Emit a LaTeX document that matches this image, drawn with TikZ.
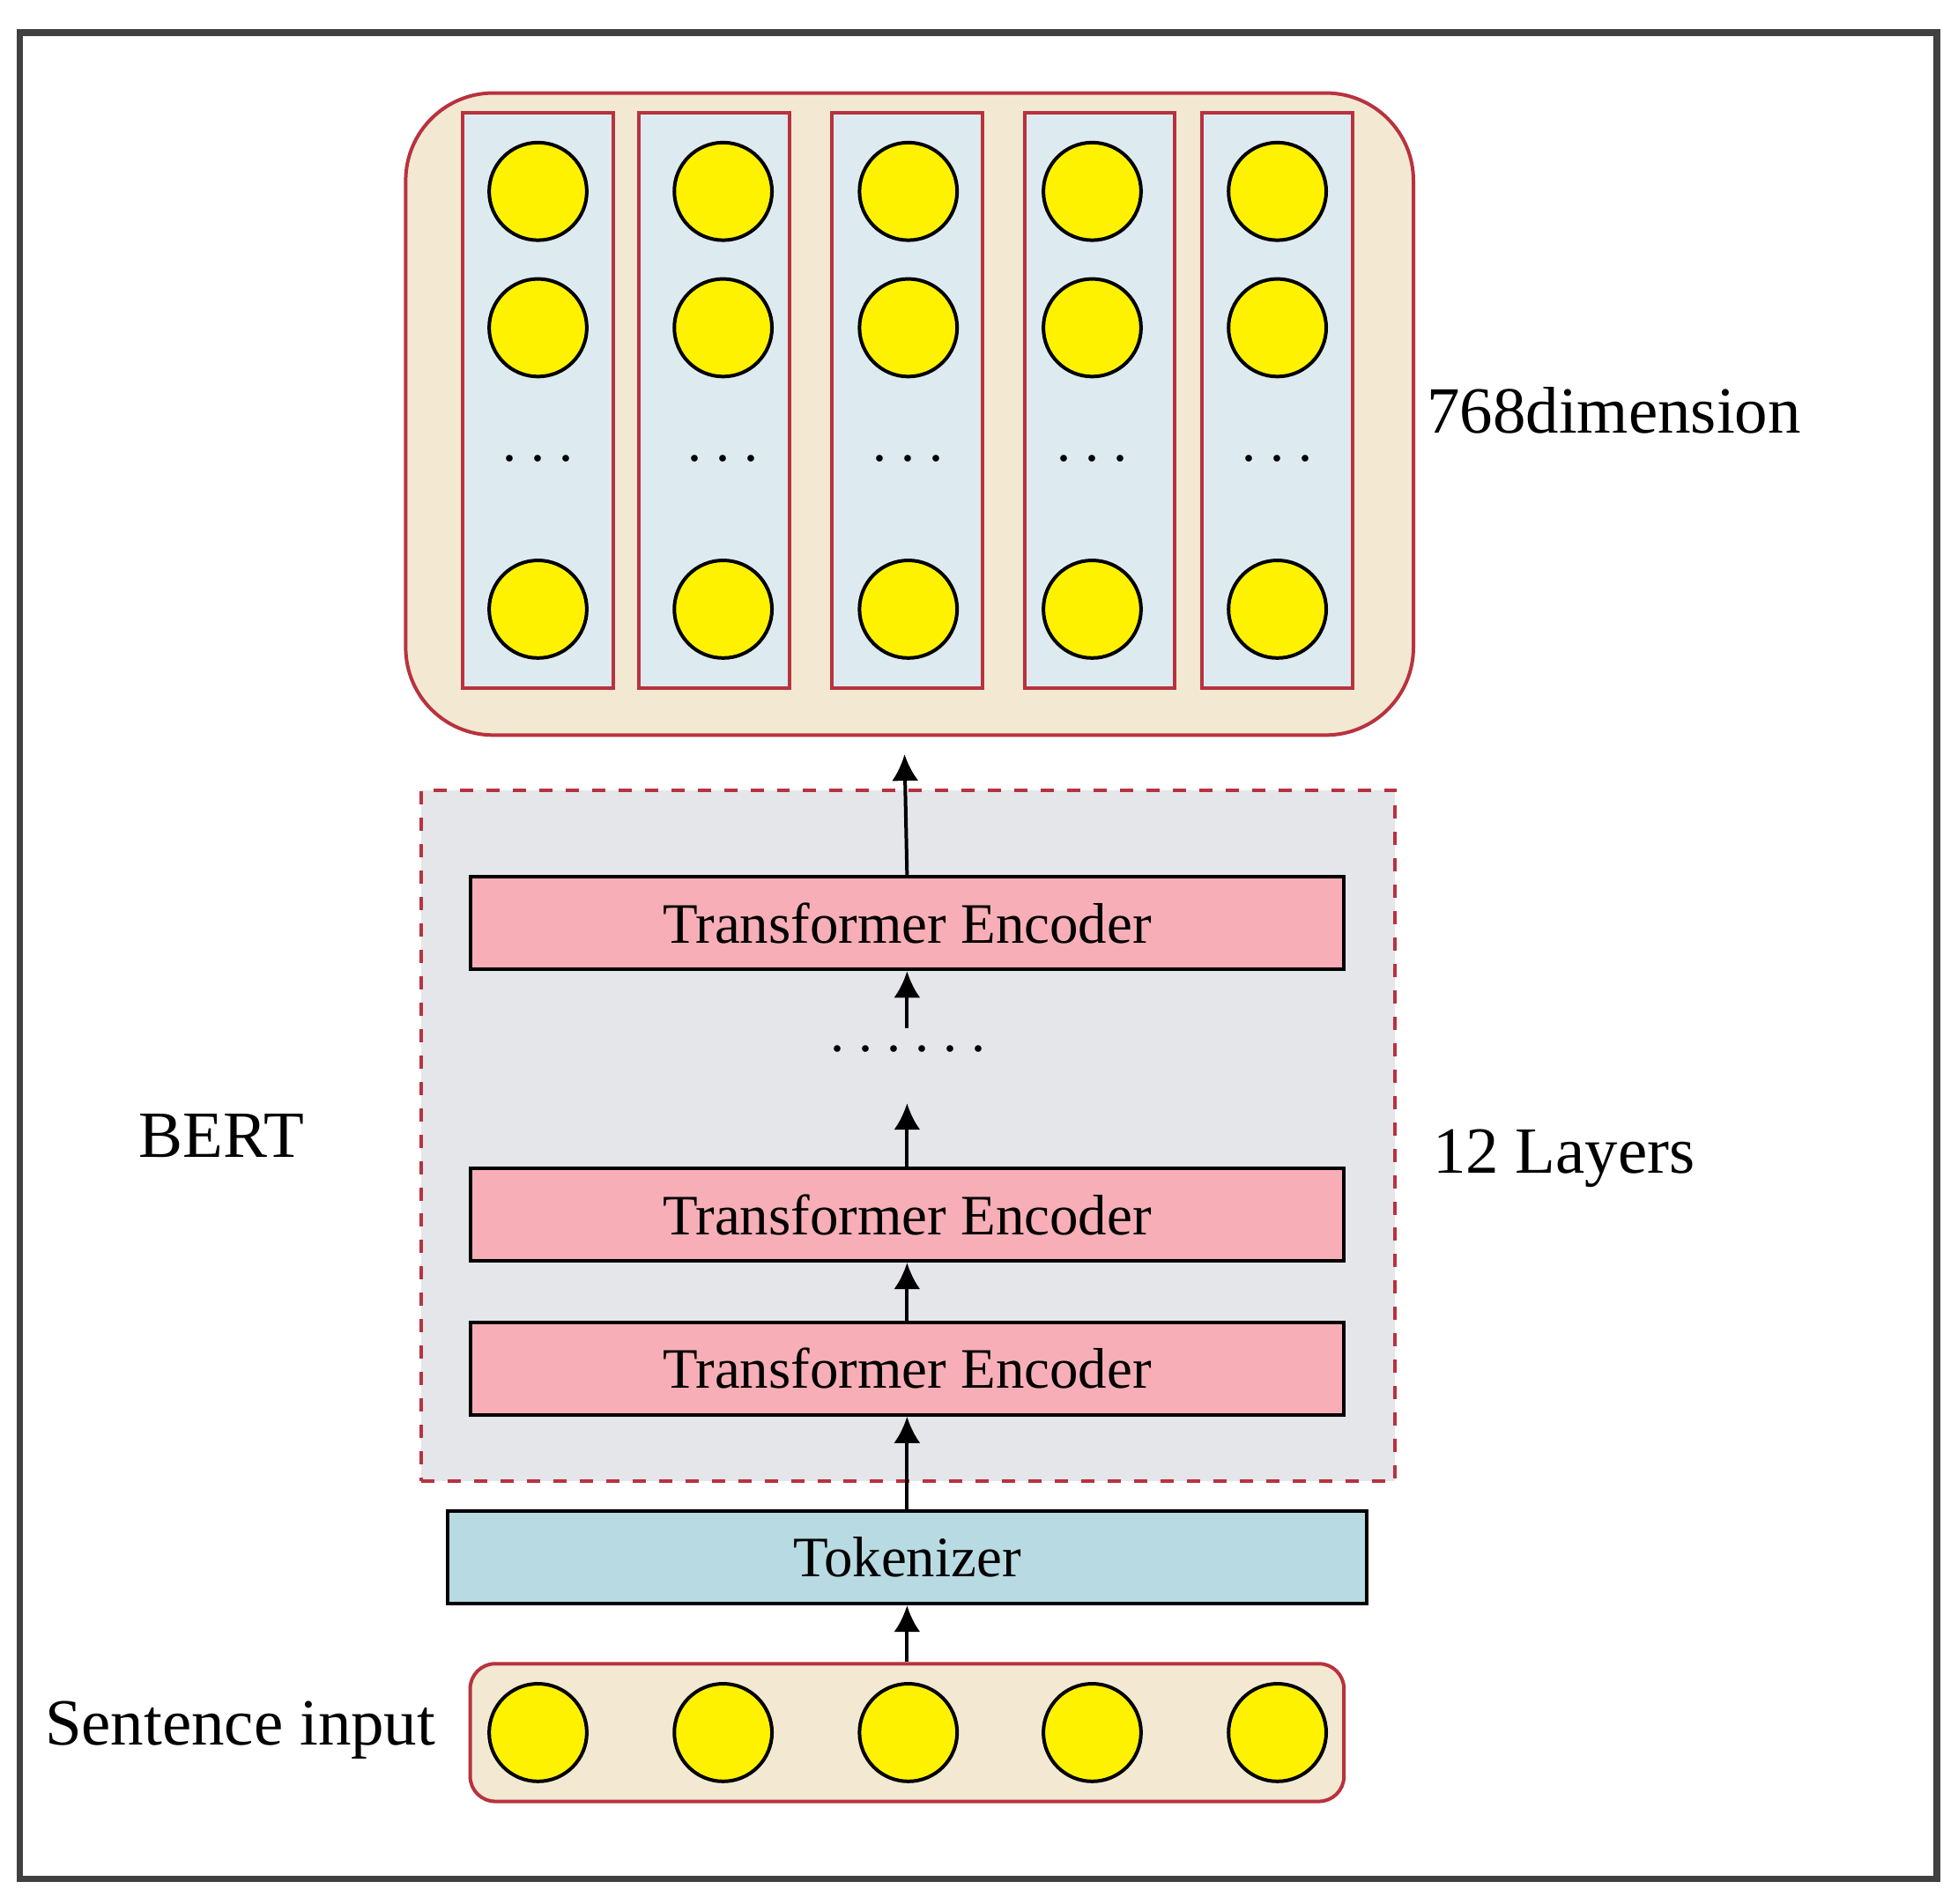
\documentclass[tikz,border=0pt]{standalone}
\usepackage{fontspec}
\setmainfont{Liberation Serif}
\usetikzlibrary{arrows.meta, positioning}
\definecolor{beige}{HTML}{F3E9D2}
\definecolor{colblue}{HTML}{DDEBF0}
\definecolor{redline}{HTML}{B8323F}
\definecolor{bertgray}{HTML}{E4E6EA}
\definecolor{encpink}{HTML}{F7AEB6}
\definecolor{tokblue}{HTML}{B8DAE2}
\tikzstyle{encoder} = [rectangle, minimum width=6.98cm, minimum height=0.74cm, draw=black, thick, fill=encpink, font=\fontsize{13}{15}\selectfont]
\tikzstyle{column} = [rectangle, minimum width=1.2cm, minimum height=4.6cm, draw=redline, thick, fill=colblue]
\tikzstyle{unit} = [circle, minimum size=0.78cm, draw=black, thick, fill=yellow]
\tikzstyle{label} = [font=\fontsize{15}{18}\selectfont]
\tikzstyle{arrow} = [thick,-{Latex[length=6pt,width=6pt]}]

\begin{document}
\begin{tikzpicture}[x=0.01cm, y=-0.01cm]
\useasboundingbox (0,0) rectangle (1565,1522);
\draw[line width=1.5pt, black!75] (16,26) rectangle (1548,1502);

% output vectors
\node (out) [rectangle, rounded corners=0.7cm, minimum width=8.05cm, minimum height=5.13cm, draw=redline, thick, fill=beige] at (727,331) {};
\foreach \x [count=\i] in {430,571,725,879,1021} {
  \node (col\i) [column] at (\x,320) {};
}
\foreach \x [count=\i] in {430,578,726,873,1021} {
  \node (top\i) [unit] at (\x,153) {};
  \node (mid\i) [unit] at (\x,262) {};
  \node (bot\i) [unit] at (\x,487) {};
  \node (vdots\i) [font=\bfseries\Large] at (\x,368) {$\cdots$};
}
\node (dim) [label] at (1290,328) {768dimension};

% BERT encoder stack
\node (bert) [rectangle, minimum width=7.78cm, minimum height=5.52cm, draw=redline, thick, dashed, fill=bertgray] at (726,908) {};
\node (enc3) [encoder] at (725,738) {Transformer Encoder};
\node (enc2) [encoder] at (725,971) {Transformer Encoder};
\node (enc1) [encoder] at (725,1094) {Transformer Encoder};
\node (dots) [font=\bfseries\Large] at (726,840) {$\cdots\cdots$};
\node (bertlabel) [label] at (177,908) {BERT};
\node (layers) [label] at (1250,926) {12 Layers};

% tokenizer and input
\node (tok) [rectangle, minimum width=7.34cm, minimum height=0.74cm, draw=black, thick, fill=tokblue, font=\fontsize{13}{15}\selectfont] at (725,1245) {Tokenizer};
\node (input) [rectangle, rounded corners=0.2cm, minimum width=6.98cm, minimum height=1.1cm, draw=redline, thick, fill=beige] at (725,1385) {};
\foreach \x [count=\i] in {430,578,726,873,1021} {
  \node (in\i) [unit] at (\x,1385) {};
}
\node (sentence) [label] at (192,1383) {Sentence input};

\coordinate (outtip) at (723,603);
\coordinate (dtop) at (725,822);
\coordinate (dbot) at (725,882);

\draw [arrow] (input.north) -- (tok.south);
\draw [arrow] (tok.north) -- (enc1.south);
\draw [arrow] (enc1.north) -- (enc2.south);
\draw [arrow] (enc2.north) -- (dbot);
\draw [arrow] (dtop) -- (enc3.south);
\draw [arrow] (enc3.north) -- (outtip);
\end{tikzpicture}
\end{document}
